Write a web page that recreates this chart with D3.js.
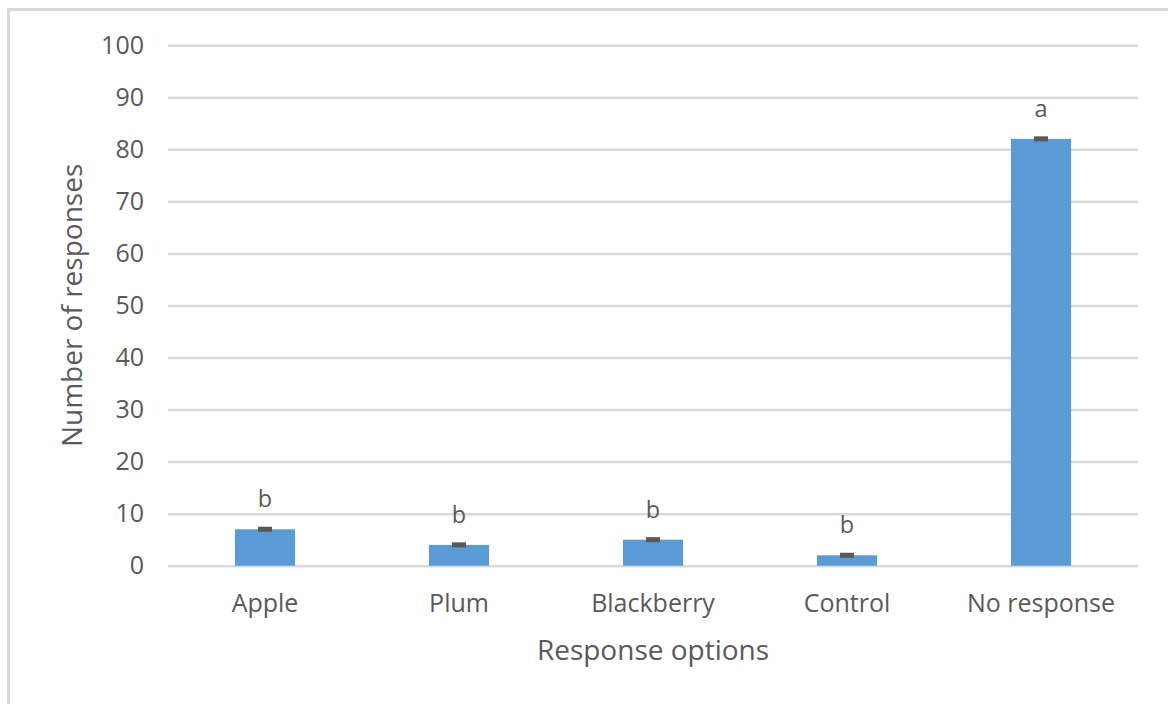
<!DOCTYPE html>
<html>
<head>
<meta charset="utf-8">
<script src="https://cdn.jsdelivr.net/npm/d3@7"></script>
<style>
  html, body { margin: 0; padding: 0; background: #fff; }
  svg { display: block; }
  text { font-family: "Open Sans", "Noto Sans", sans-serif; fill: #595959; }
</style>
</head>
<body>
<svg id="chart" width="1168" height="704"></svg>
<script>
// Response counts per option, with error bar half-widths and significance letters
const categories = ["Apple", "Plum", "Blackberry", "Control", "No response"];
const responses = [7, 4, 5, 2, 82];
const errors = [0.2, 0.2, 0.2, 0.2, 0.2];
const letters = ["b", "b", "b", "b", "a"];
const yTicks = [0, 10, 20, 30, 40, 50, 60, 70, 80, 90, 100];

const svg = d3.select("#chart");
const W = 1168, H = 704;
const plot = { left: 168, right: 1138, top: 45.2, bottom: 565.7 };

// Chart area frame (top and left edges)
svg.append("path")
  .attr("d", `M8.5,${H} L8.5,9.5 L${W},9.5`)
  .attr("fill", "none")
  .attr("stroke", "#d9d9d9")
  .attr("stroke-width", 3);

const x = d3.scaleBand()
  .domain(categories)
  .range([plot.left, plot.right])
  .paddingInner(0.69)
  .paddingOuter(0.345);

const y = d3.scaleLinear()
  .domain([0, 100])
  .range([plot.bottom, plot.top]);

// Horizontal gridlines and y tick labels
const yAxis = d3.axisLeft(y)
  .tickValues(yTicks)
  .tickSize(-(plot.right - plot.left))
  .tickPadding(24)
  .tickFormat(d3.format("d"));

const gy = svg.append("g")
  .attr("transform", `translate(${plot.left},0)`)
  .call(yAxis);
gy.select(".domain").remove();
gy.selectAll(".tick line")
  .attr("stroke", "#d9d9d9")
  .attr("stroke-width", 2.5);
gy.selectAll(".tick text")
  .attr("font-size", 25)
  .attr("fill", "#595959");

// Bars
svg.append("g")
  .selectAll("rect")
  .data(categories)
  .join("rect")
  .attr("x", d => x(d))
  .attr("width", x.bandwidth())
  .attr("y", (d, i) => y(responses[i]))
  .attr("height", (d, i) => y(0) - y(responses[i]))
  .attr("fill", "#5b9bd5");

// Error bars
const eb = svg.append("g").attr("stroke", "#595959").attr("stroke-width", 3);
categories.forEach((c, i) => {
  const cx = x(c) + x.bandwidth() / 2;
  const hi = y(responses[i] + errors[i]);
  const lo = y(responses[i] - errors[i]);
  eb.append("line").attr("x1", cx).attr("x2", cx).attr("y1", hi).attr("y2", lo);
  eb.append("line").attr("x1", cx - 7).attr("x2", cx + 7).attr("y1", hi).attr("y2", hi);
  eb.append("line").attr("x1", cx - 7).attr("x2", cx + 7).attr("y1", lo).attr("y2", lo);
});

// Significance letters above the error bars
svg.append("g")
  .selectAll("text")
  .data(categories)
  .join("text")
  .attr("x", d => x(d) + x.bandwidth() / 2)
  .attr("y", (d, i) => y(responses[i] + errors[i]) - 21)
  .attr("text-anchor", "middle")
  .attr("font-size", 23.5)
  .text((d, i) => letters[i]);

// Category labels
const xAxis = d3.axisBottom(x).tickSize(0).tickPadding(0);
const gx = svg.append("g")
  .attr("transform", `translate(0,${plot.bottom})`)
  .call(xAxis);
gx.select(".domain").remove();
gx.selectAll(".tick text")
  .attr("font-size", 25)
  .attr("fill", "#595959")
  .attr("dy", null)
  .attr("y", 46);

// Axis titles
svg.append("text")
  .attr("x", (plot.left + plot.right) / 2)
  .attr("y", 660)
  .attr("text-anchor", "middle")
  .attr("font-size", 28)
  .text("Response options");

svg.append("text")
  .attr("transform", `translate(81.5,${(plot.top + plot.bottom) / 2}) rotate(-90)`)
  .attr("text-anchor", "middle")
  .attr("font-size", 28)
  .text("Number of responses");
</script>
</body>
</html>
